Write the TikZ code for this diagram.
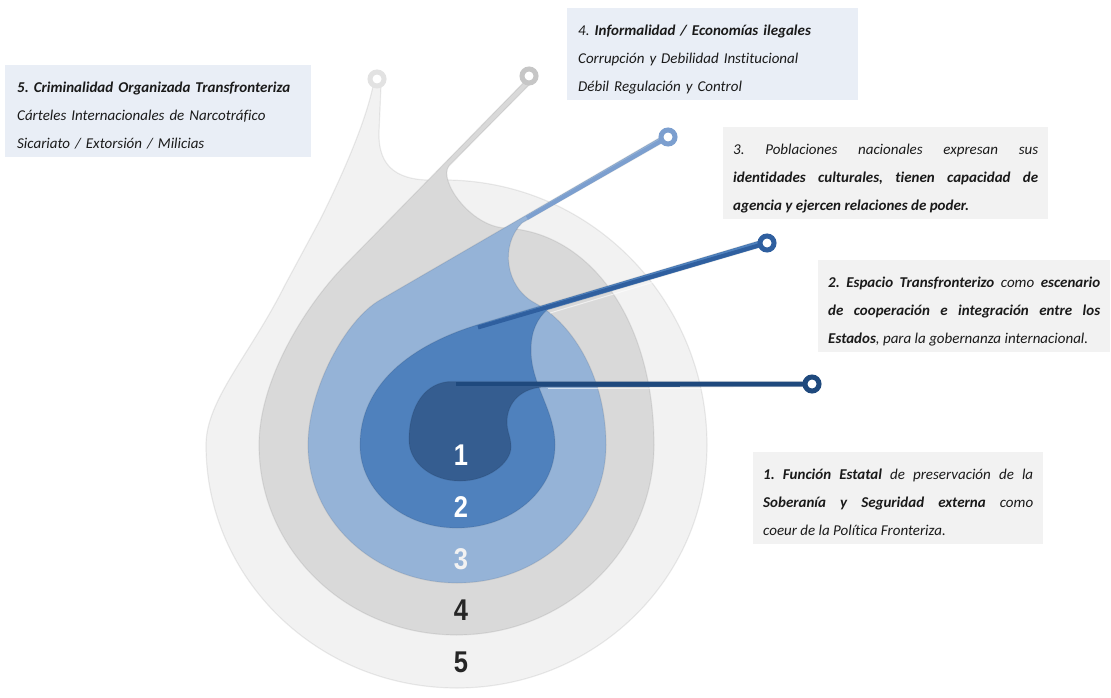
\documentclass[tikz,border=0pt]{standalone}
\usepackage{fontspec}
\setmainfont{Carlito}[Ligatures=NoCommon]
\newfontfamily\numfont{Liberation Sans}
\tolerance=9999
\hbadness=10000
\frenchspacing
\definecolor{cfive}{HTML}{F2F2F2}
\definecolor{cfour}{HTML}{D9D9D9}
\definecolor{cthree}{HTML}{95B3D7}
\definecolor{ctwo}{HTML}{4F81BD}
\definecolor{cone}{HTML}{355D90}
\definecolor{rfive}{HTML}{E2E2E2}
\definecolor{rfour}{HTML}{C6C6C6}
\definecolor{rthree}{HTML}{7C9FCF}
\definecolor{rtwo}{HTML}{2F5F9F}
\definecolor{rone}{HTML}{1F497D}
\definecolor{boxblue}{HTML}{E9EEF6}
\definecolor{boxgrey}{HTML}{F2F2F2}
\definecolor{txt}{HTML}{1A1A1A}
\definecolor{numdark}{HTML}{262626}
\newcommand{\boxfont}{\fontsize{15pt}{28pt}\selectfont\itshape}
\newcommand{\digitfont}{\numfont\bfseries\fontsize{30pt}{30pt}\selectfont}
\newcommand{\topstrut}{\rule{0pt}{27pt}}
\newcommand{\botstrut}{\rule[-9pt]{0pt}{0pt}}
\tikzset{
  rim/.style={draw=black, draw opacity=0.07, line width=1.2pt},
  ringnode/.style={circle, minimum size=14pt, inner sep=0pt, line width=5pt, fill=white, draw=#1},
  stemline/.style={draw=#1, line width=4pt},
  glint/.style={white, line width=1pt, opacity=0.6},
  numlabel/.style={text=#1, font=\digitfont, inner sep=0pt},
  textbox/.style={fill=#1, text=txt, anchor=north west, inner ysep=0pt, font=\boxfont},
}
\begin{document}
\begin{tikzpicture}[x=1pt,y=-1pt]
\useasboundingbox (0,0) rectangle (1111,698);
\fill[white] (0,0) rectangle (1111,698);

% ring positions
\coordinate (r5) at (377,79);
\coordinate (r4) at (529,76);
\coordinate (r3) at (668,137);
\coordinate (r2) at (767,243);
\coordinate (r1) at (812,384);

% layer 5
\fill[cfive, rim] (373,86) .. controls (366,120) and (345,170) .. (320,220)
  -- (285,285) .. controls (250,355) and (206,400) .. (206,445)
  .. controls (206,579) and (318,688) .. (457,688)
  .. controls (595,688) and (707,579) .. (707,445)
  .. controls (707,300) and (590,178) .. (440,180)
  .. controls (398,182) and (378,168) .. (379,132)
  -- (381,86) -- cycle;
% layer 4
\fill[cfour, rim] (526,80) -- (345,265) .. controls (305,306) and (259,380) .. (259,445)
  .. controls (259,550) and (347,635) .. (456.5,635)
  .. controls (566,635) and (654,550) .. (654,445)
  .. controls (654,320) and (590,232) .. (505,228)
  .. controls (470,226) and (438,180) .. (449,166)
  -- (532,82) -- cycle;
% layer 3
\fill[cthree, rim] (666,134) -- (380,300) .. controls (345,320) and (308,390) .. (308,445)
  .. controls (308,521) and (375,583) .. (457,583)
  .. controls (540,583) and (606,521) .. (606,445)
  .. controls (606,380) and (575,325) .. (535,303)
  .. controls (505,287) and (500,245) .. (522,223)
  -- (669,139) -- cycle;
\coordinate (e3) at (527,218);
\draw[stemline=rthree] (r3) -- (e3);
% layer 2
\fill[ctwo, rim] (765,239) -- (480,324) .. controls (410,345) and (360,385) .. (360,445)
  .. controls (360,491) and (403,528) .. (457,528)
  .. controls (511,528) and (555,491) .. (555,445)
  .. controls (555,410) and (531,385) .. (531,350)
  .. controls (531,330) and (538,318) .. (547,310)
  -- (768,245) -- cycle;
\coordinate (e2) at (478,327.5);
\coordinate (h2a) at (550,313);
\coordinate (h2b) at (758,251);
\draw[glint] (h2a) -- (h2b);
\draw[stemline=rtwo] (r2) -- (e2);
% layer 1
\fill[cone, rim] (810,381.5) -- (452,381.5) .. controls (426,381.5) and (409,405) .. (409,440)
  .. controls (409,463) and (432,481) .. (460,481)
  .. controls (488,481) and (511,463) .. (511,447)
  .. controls (511,437) and (507,432) .. (507,422)
  .. controls (507,402) and (522,387.5) .. (545,387)
  -- (812,386.5) -- cycle;
\coordinate (e1) at (456,384);
\coordinate (h1a) at (548,388.5);
\coordinate (h1b) at (802,388.5);
\draw[glint] (h1a) -- (h1b);
\draw[stemline=rone] (r1) -- (e1);

% rings
\node[ringnode=rfive] (ring5) at (r5) {};
\node[ringnode=rfour] (ring4) at (r4) {};
\node[ringnode=rthree] (ring3) at (r3) {};
\node[ringnode=rtwo] (ring2) at (r2) {};
\node[ringnode=rone] (ring1) at (r1) {};

% numbers
\node[numlabel=white] (n1) at (461,455) {\scalebox{0.85}[1]{1}};
\node[numlabel=white] (n2) at (461,507) {\scalebox{0.85}[1]{2}};
\node[numlabel=cfive] (n3) at (461,559) {\scalebox{0.85}[1]{3}};
\node[numlabel=numdark] (n4) at (461,610) {\scalebox{0.85}[1]{4}};
\node[numlabel=numdark] (n5) at (461,662) {\scalebox{0.85}[1]{5}};

% text boxes
\node[textbox=boxblue, inner xsep=12pt, text width=282pt, align=left] (b5) at (5,65)
  {\topstrut\textbf{5. Criminalidad Organizada Transfronteriza}\\
   Cárteles Internacionales de Narcotráfico\\
   Sicariato / Extorsión / Milicias\botstrut};
\node[textbox=boxblue, inner xsep=11pt, text width=269pt, align=left] (b4) at (567,8)
  {\topstrut 4. \textbf{Informalidad / Economías ilegales}\\
   Corrupción y Debilidad Institucional\\
   Débil Regulación y Control\botstrut};
\node[textbox=boxgrey, inner xsep=10pt, text width=305pt, align=justify] (b3) at (723,127)
  {\topstrut 3. Poblaciones nacionales expresan sus\linebreak
   \textbf{identidades culturales, tienen capacidad de\linebreak
   agencia y ejercen relaciones de poder.}\botstrut};
\node[textbox=boxgrey, inner xsep=10pt, text width=272pt, align=justify] (b2) at (818,260)
  {\topstrut\textbf{2. Espacio Transfronterizo} como \textbf{escenario\linebreak
   de cooperación e integración entre los\linebreak
   Estados}, para la gobernanza internacional.\botstrut};
\node[textbox=boxgrey, inner xsep=10pt, text width=270pt, align=justify] (b1) at (753,452)
  {\topstrut\textbf{1. Función Estatal} de preservación de la\linebreak
   \textbf{Soberanía y Seguridad externa} como\linebreak
   coeur de la Política Fronteriza.\botstrut};
\end{tikzpicture}
\end{document}
